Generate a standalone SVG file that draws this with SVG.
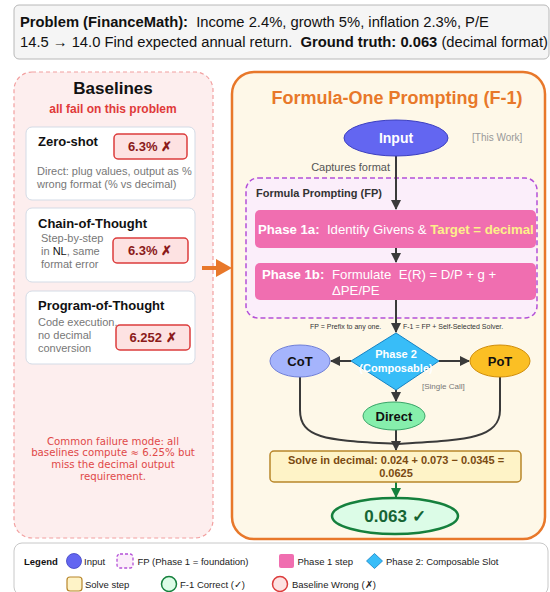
<svg xmlns="http://www.w3.org/2000/svg" width="550" height="592" viewBox="0 0 550 592">
<style>
text{font-family:"Liberation Sans",Arial,sans-serif;white-space:pre}
.card{fill:#fff;stroke:#d3dbe6;stroke-width:1}
.ct{font-size:13px;font-weight:bold;fill:#111}
.desc{font-size:11px;fill:#777}
.badge{fill:#fde2e2;stroke:#dc3c3c;stroke-width:1.5}
.bt{font-size:13px;font-weight:bold;fill:#8b1a1a;text-anchor:middle}
.ell{font-size:13px;font-weight:bold;fill:#111;text-anchor:middle}
.conn{fill:none;stroke:#3a3a3a;stroke-width:2}
.lg{font-size:9.5px;fill:#222}
.dv{font-family:"DejaVu Sans",sans-serif;font-size:10.2px;fill:#e04848;text-anchor:middle}
</style>
<defs>
<marker id="ah" viewBox="0 0 10 10" refX="9" refY="5" markerWidth="5" markerHeight="5" orient="auto"><path d="M0,0L10,5L0,10z" fill="#3a3a3a"/></marker>
<marker id="ahg" viewBox="0 0 10 10" refX="9" refY="5" markerWidth="5" markerHeight="5" orient="auto"><path d="M0,0L10,5L0,10z" fill="#15803d"/></marker>
</defs>
<rect width="550" height="592" fill="#fff"/>

<g id="problem">
<rect x="14" y="5" width="535" height="54" rx="5" fill="#f5f5f5" stroke="#b8b8b8" stroke-width="1"/>
<text x="20" y="27" font-size="14.75" fill="#111" xml:space="preserve"><tspan font-weight="bold">Problem (FinanceMath):</tspan>  Income 2.4%, growth 5%, inflation 2.3%, P/E</text>
<text x="20" y="47" font-size="14.75" fill="#111" xml:space="preserve">14.5 → 14.0 Find expected annual return.  <tspan font-weight="bold">Ground truth: 0.063</tspan> (decimal format)</text>
</g>

<g id="baselines">
<rect x="14" y="72" width="199" height="466" rx="18" fill="#fdeeee" stroke="#f2a0a0" stroke-width="1.2" stroke-dasharray="4,3"/>
<text x="113" y="94" font-size="17" font-weight="bold" fill="#111" text-anchor="middle">Baselines</text>
<text x="113" y="113" font-size="12" font-weight="bold" fill="#e03a3a" text-anchor="middle">all fail on this problem</text>
</g>
<g id="zeroshot">
<rect class="card" x="26" y="127" width="169" height="73" rx="6"/>
<text class="ct" x="38" y="146">Zero-shot</text>
<rect class="badge" x="114" y="134" width="73" height="25" rx="4"/>
<text class="bt" x="150" y="151">6.3% ✗</text>
<text class="desc" x="37" y="175">Direct: plug values, output as %</text>
<text class="desc" x="37" y="188">wrong format (% vs decimal)</text>
</g>
<g id="cot-baseline">
<rect class="card" x="26" y="208" width="169" height="74" rx="6"/>
<text class="ct" x="38" y="228">Chain-of-Thought</text>
<text class="desc" x="41" y="242">Step-by-step</text>
<text class="desc" x="41" y="255">in <tspan fill="#111">NL</tspan>, same</text>
<text class="desc" x="41" y="268">format error</text>
<rect class="badge" x="113" y="238" width="75" height="25" rx="4"/>
<text class="bt" x="150" y="255">6.3% ✗</text>
</g>
<g id="pot-baseline">
<rect class="card" x="26" y="291" width="169" height="73" rx="6"/>
<text class="ct" x="38" y="310">Program-of-Thought</text>
<text class="desc" x="38" y="326">Code execution,</text>
<text class="desc" x="38" y="339">no decimal</text>
<text class="desc" x="38" y="352">conversion</text>
<rect class="badge" x="116" y="325" width="74" height="25" rx="4"/>
<text class="bt" x="153" y="342">6.252 ✗</text>
</g>
<g id="failure-note">
<text class="dv" x="113" y="445">Common failure mode: all</text>
<text class="dv" x="113" y="456">baselines compute ≈ 6.25% but</text>
<text class="dv" x="113" y="468">miss the decimal output</text>
<text class="dv" x="113" y="480">requirement.</text>
</g>

<g id="f1-panel">
<rect x="232" y="72" width="313" height="467" rx="22" fill="#fef8e8" stroke="#e8782a" stroke-width="2.5"/>
<text x="397" y="104" font-size="18" font-weight="bold" fill="#e8782a" text-anchor="middle">Formula-One Prompting (F-1)</text>
<text x="472" y="141" font-size="10" fill="#999">[This Work]</text>
</g>
<g id="fp-box">
<rect x="246" y="178" width="291" height="140" rx="12" fill="#fbeefa" stroke="#b450d8" stroke-width="1.5" stroke-dasharray="5,3"/>
<text x="256" y="197" font-size="11" font-weight="bold" fill="#333">Formula Prompting (FP)</text>
</g>

<g id="connectors">
<path d="M202,268 H218" stroke="#e8782a" stroke-width="4" fill="none"/>
<path d="M216,259 L232,268 L216,277 z" fill="#e8782a"/>
<path class="conn" d="M396,156 V209" marker-end="url(#ah)"/>
<path class="conn" d="M396,248 V262" marker-end="url(#ah)"/>
<path class="conn" d="M396,300 V332" marker-end="url(#ah)"/>
<path class="conn" d="M351,361 H331" marker-end="url(#ah)"/>
<path class="conn" d="M439,361 H469" marker-end="url(#ah)"/>
<path class="conn" d="M396,390 V401" marker-end="url(#ah)"/>
<path class="conn" d="M300,377 V410 C300,440 330,440 396,444"/>
<path class="conn" d="M500,377 V410 C500,440 462,440 396,444"/>
<path class="conn" d="M396,430 V450" marker-end="url(#ah)"/>
<path d="M396,482 V497" stroke="#15803d" stroke-width="2" fill="none" marker-end="url(#ahg)"/>
<text x="390" y="171" font-size="11" fill="#555" text-anchor="end">Captures format</text>
<text x="310" y="329" font-size="7" fill="#333">FP = Prefix to any one.</text>
<text x="403" y="329" font-size="7" fill="#333">F-1 = FP + Self-Selected Solver.</text>
<text x="422" y="389" font-size="8" fill="#777">[Single Call]</text>
</g>

<g id="input">
<ellipse cx="396" cy="138" rx="52" ry="18" fill="#6366f1" stroke="#3d40c0" stroke-width="1"/>
<text x="396" y="143" font-size="14" font-weight="bold" fill="#fff" text-anchor="middle">Input</text>
</g>
<g id="phase1a">
<rect x="255" y="210" width="281" height="38" rx="5" fill="#f06eb0"/>
<text x="258" y="234" font-size="13.2" fill="#fff" xml:space="preserve"><tspan font-weight="bold">Phase 1a:</tspan>  Identify Givens &amp; <tspan font-weight="bold" fill="#fdf08a">Target = decimal</tspan></text>
</g>
<g id="phase1b">
<rect x="255" y="263" width="281" height="37" rx="5" fill="#f06eb0"/>
<text x="262" y="279" font-size="13.2" font-weight="bold" fill="#fff">Phase 1b:</text>
<text x="332" y="279" font-size="13.2" fill="#fff" xml:space="preserve">Formulate  E(R) = D/P + g +</text>
<text x="332" y="295" font-size="13.2" fill="#fff">ΔPE/PE</text>
</g>
<g id="phase2">
<path d="M396,333 L439,361 L396,390 L351,361 z" fill="#38bdf8" stroke="#1583c4" stroke-width="1"/>
<text x="396" y="358" font-size="11" font-weight="bold" fill="#fff" text-anchor="middle">Phase 2</text>
<text x="396" y="372" font-size="11" font-weight="bold" fill="#fff" text-anchor="middle">(Composable)</text>
</g>
<g id="cot">
<ellipse cx="300" cy="361" rx="30" ry="16" fill="#a5b4fc" stroke="#6f7fd8" stroke-width="1"/>
<text class="ell" x="300" y="366">CoT</text>
</g>
<g id="pot">
<ellipse cx="500" cy="361" rx="30" ry="16" fill="#fbbf24" stroke="#d08d0a" stroke-width="1"/>
<text class="ell" x="500" y="366">PoT</text>
</g>
<g id="direct">
<ellipse cx="394" cy="416" rx="31" ry="14" fill="#86efac" stroke="#3aa468" stroke-width="1"/>
<text class="ell" x="394" y="421">Direct</text>
</g>
<g id="solve">
<rect x="270" y="451" width="251" height="31" rx="4" fill="#fef3c7" stroke="#b8862a" stroke-width="1.5"/>
<text x="396" y="464" font-size="11" font-weight="bold" fill="#7a4a12" text-anchor="middle">Solve in decimal: 0.024 + 0.073 − 0.0345 =</text>
<text x="396" y="477" font-size="11" font-weight="bold" fill="#7a4a12" text-anchor="middle">0.0625</text>
</g>
<g id="result">
<ellipse cx="395" cy="516" rx="63" ry="18" fill="#dcfce7" stroke="#15803d" stroke-width="2.5"/>
<text x="395" y="522" font-size="17" font-weight="bold" fill="#166534" text-anchor="middle">0.063 ✓</text>
</g>

<g id="legend">
<rect x="14" y="543" width="534" height="52" rx="8" fill="#fff" stroke="#c8c8c8" stroke-width="1"/>
<text x="24" y="564.5" font-size="9.5" font-weight="bold" fill="#111">Legend</text>
<circle cx="74" cy="561" r="7.5" fill="#6366f1" stroke="#3d40c0" stroke-width="0.8"/>
<text class="lg" x="84" y="564.5">Input</text>
<rect x="117" y="554" width="16" height="14" rx="3" fill="#fbeefa" stroke="#b450d8" stroke-width="1.3" stroke-dasharray="3,2"/>
<text class="lg" x="137.5" y="564.5">FP (Phase 1 = foundation)</text>
<rect x="279" y="554" width="15" height="14" rx="2" fill="#f06eb0"/>
<text class="lg" x="297.5" y="564.5">Phase 1 step</text>
<path d="M374.5,553.5 L382.5,561 L374.5,568.5 L366.5,561 z" fill="#38bdf8" stroke="#1583c4" stroke-width="0.8"/>
<text class="lg" x="386" y="564.5">Phase 2: Composable Slot</text>
<rect x="67" y="577" width="15" height="14" rx="3" fill="#fef3c7" stroke="#b8862a" stroke-width="1.2"/>
<text class="lg" x="85" y="587.5">Solve step</text>
<circle cx="169" cy="584" r="7.5" fill="#dcfce7" stroke="#15803d" stroke-width="1.5"/>
<text class="lg" x="180" y="587.5">F-1 Correct (✓)</text>
<circle cx="280" cy="584" r="7.5" fill="#fde2e2" stroke="#dc3c3c" stroke-width="1.5"/>
<text class="lg" x="292" y="587.5">Baseline Wrong (✗)</text>
</g>
</svg>
